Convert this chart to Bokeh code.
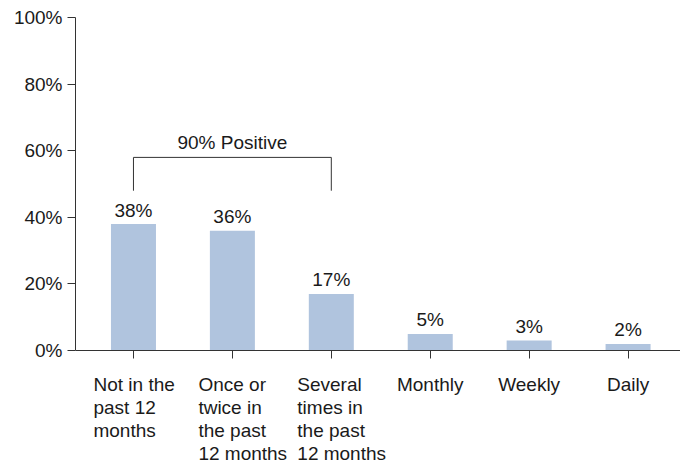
from bokeh.plotting import figure
from bokeh.models import Range1d, FixedTicker, ColumnDataSource
from bokeh.embed import file_html
from bokeh.resources import INLINE
from bokeh.core.properties import value

categories = ["Not in the\npast 12\nmonths", "Once or\ntwice in\nthe past\n12 months",
              "Several\ntimes in\nthe past\n12 months", "Monthly", "Weekly", "Daily"]
values = [38, 36, 17, 5, 3, 2]
value_labels = ["38%", "36%", "17%", "5%", "3%", "2%"]
y_ticks = [0, 20, 40, 60, 80, 100]
y_tick_labels = ["0%", "20%", "40%", "60%", "80%", "100%"]
bracket_first, bracket_last = 0, 2
bracket_text = "90% Positive"

FONT = "Liberation Sans"
FS = "19px"
TXT = "#1a1a1a"
AX = "#333333"
LINE_H = 23

xs = list(range(len(categories)))

p = figure(width=680, height=466, output_backend="svg", toolbar_location=None,
           x_range=Range1d(-0.586, 5.53), y_range=Range1d(-34.8, 100),
           min_border_left=75, min_border_right=0, min_border_top=17, min_border_bottom=0)
p.outline_line_color = None
p.xgrid.visible = False
p.ygrid.visible = False
p.background_fill_color = "white"

src = ColumnDataSource(dict(x=xs, top=values, lab=value_labels))
p.vbar(x="x", top="top", width=0.455, source=src, fill_color="#B0C4DE", line_color=None)
p.text(x="x", y="top", text="lab", source=src, text_align="center", text_baseline="alphabetic",
       y_offset=-14, text_font=value(FONT), text_font_size=FS, text_color=TXT)

# bracket
grp_max = max(values[bracket_first:bracket_last + 1])
btop = grp_max + 20
bleg = grp_max + 10
p.line(x=[bracket_first, bracket_first, bracket_last, bracket_last], y=[bleg, btop, btop, bleg],
       line_color=AX, line_width=1)
p.text(x=[(bracket_first + bracket_last) / 2], y=[btop], text=[bracket_text], text_align="center",
       text_baseline="alphabetic", y_offset=-15, text_font=value(FONT), text_font_size=FS,
       text_color=TXT)

# axes
xa = p.xaxis[0]
xa.fixed_location = 0
xa.ticker = FixedTicker(ticks=xs)
xa.major_label_overrides = {i: "" for i in xs}
xa.major_label_text_font_size = "1px"
xa.major_tick_out = 8
xa.major_tick_in = 0
xa.minor_tick_out = 0
xa.minor_tick_in = 0
xa.axis_line_color = AX
xa.major_tick_line_color = AX

ya = p.yaxis[0]
ya.bounds = (0, 100)
ya.ticker = FixedTicker(ticks=y_ticks)
ya.major_label_overrides = {t: l for t, l in zip(y_ticks, y_tick_labels)}
ya.major_label_text_font = FONT
ya.major_label_text_font_size = FS
ya.major_label_text_color = TXT
ya.major_label_standoff = 5
ya.major_tick_out = 8
ya.major_tick_in = 0
ya.minor_tick_out = 0
ya.minor_tick_in = 0
ya.axis_line_color = AX
ya.major_tick_line_color = AX

# category labels: multi-line blocks, lines left-aligned
lx, ly, lt, lxo, lyo, la = [], [], [], [], [], []
for i, cat in enumerate(categories):
    lines = cat.split("\n")
    multi = len(lines) > 1
    for k, line in enumerate(lines):
        lx.append(i)
        ly.append(0)
        lt.append(line)
        lxo.append((-40 if i == 0 else -34) if multi else 0)
        lyo.append(34 + LINE_H * k)
        la.append("left" if multi else "center")
lsrc = ColumnDataSource(dict(x=lx, y=ly, t=lt, xo=lxo, yo=lyo, a=la))
p.text(x="x", y="y", text="t", x_offset="xo", y_offset="yo", text_align="a", source=lsrc,
       text_baseline="alphabetic", text_font=value(FONT), text_font_size=FS, text_color=TXT)

open("out.html", "w").write(file_html(p, INLINE))
